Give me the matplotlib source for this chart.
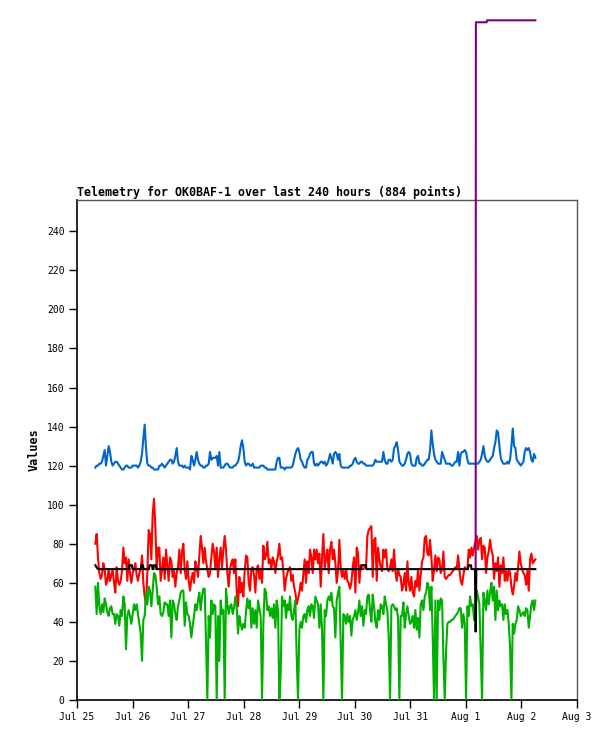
import numpy as np
import matplotlib.pyplot as plt
import matplotlib.dates as mdates

# samples on a regular grid, first one at Jul 25 07:55, about 34.5 min apart
start = np.datetime64("2023-07-25T07:55")
step = np.timedelta64(2074, "s")

blue = [119,120,120,121,121,122,125,128,120,125, 130,127,122,120,121,122,122,121,120,119,
        118,118,119,120,120,119,119,119,120,120, 120,120,119,120,122,126,134,141,129,121,
        120,120,119,119,118,118,118,118,120,120, 121,120,119,120,121,122,123,123,121,122,
        125,129,122,120,120,120,119,120,119,119, 119,118,125,123,120,123,127,123,121,120,
        120,119,119,120,120,121,127,123,124,124, 124,125,120,127,119,119,119,120,121,121,
        120,119,119,119,120,120,121,122,125,130, 133,129,122,120,121,121,120,120,121,119,
        119,119,119,119,120,120,120,119,119,118, 118,118,118,118,118,118,122,124,124,119,
        119,119,118,119,119,119,119,119,120,123, 126,128,129,127,123,122,120,119,119,123,
        124,126,127,127,121,
        120,121,120,121,122,122,121,122,120,121, 123,126,124,121,126,127,126,123,126,120,
        119,119,119,119,119,119,120,120,121,123, 124,122,121,121,122,122,121,121,120,120,
        120,120,120,120,121,123,122,122,122,122, 122,127,123,121,121,123,123,122,123,129,
        130,132,128,122,121,120,120,121,123,126, 127,126,121,120,120,120,124,125,121,121,
        120,120,121,122,123,123,128,138,131,126, 123,122,121,121,121,127,125,123,121,121,
        121,121,120,120,121,122,122,127,120,126, 127,127,128,127,123,121,121,121,121,121,
        121,121,121,122,123,126,130,125,123,122, 122,123,124,125,129,132,138,137,130,124,
        122,121,121,121,122,121,123,130,139,130, 129,123,122,121,120,121,122,127,129,128,
        129,127,123,122,126,124]

red = [80,85,73,65,62,64,70,67,59,61, 67,61,64,67,60,55,68,61,59,61,
       66,78,70,73,61,72,65,60,65,67, 70,64,61,65,67,74,60,53,49,65,
       87,85,72,95,103,89,67,78,78,61, 67,73,62,77,69,61,73,71,63,66,
       58,65,68,77,65,76,80,67,62,71, 61,56,62,65,60,71,68,63,74,84,
       78,70,
       78,71,67,63,65,73,80,76,67,78, 63,72,78,68,77,84,77,65,58,67,
       70,72,65,72,56,48,63,55,60,53, 66,74,73,60,56,67,68,64,55,67,
       69,62,67,60,79,72,74,81,70,72, 67,73,71,65,71,74,80,72,73,66,
       56,62,65,67,68,61,64,58,55,49, 52,55,60,56,65,72,60,71,65,77,
       73,65,77,72,
       77,70,75,58,73,85,68,72,77,65, 77,81,72,77,70,60,66,82,68,63,
       66,62,67,61,60,57,60,68,73,55, 78,75,60,69,67,67,68,68,84,87,
       88,89,63,82,83,61,78,72,68,66, 77,73,77,67,66,68,72,66,77,66,
       61,67,64,63,56,59,65,56,71,60, 56,63,55,53,61,58,67,56,64,71,
       73,83,84,75,
       74,82,73,61,67,74,66,73,72,65, 67,76,63,62,63,64,64,65,66,67,
       68,67,74,67,61,59,64,68,67,67, 77,73,78,74,78,81,84,77,82,83,
       72,79,78,65,73,76,82,77,74,62, 70,66,73,58,69,65,73,61,66,61,
       67,65,58,54,58,65,61,68,76,70, 67,65,64,59,66,56,72,75,70,71,
       72]

green = [58,44,60,48,44,49,45,52,49,45, 43,47,48,44,44,39,44,43,38,46,
         43,53,49,26,43,46,43,39,44,49, 46,49,44,39,34,20,41,43,55,49,
         58,56,48,56,65,64,58,49,53,44, 43,45,50,49,49,43,51,32,51,49,
         44,41,48,51,55,56,56,38,50,44, 43,39,32,38,43,49,46,51,55,46,
         53,57,
         57,30,0,43,32,51,44,49,48,0, 43,20,51,44,46,0,57,49,44,48,
         49,44,47,53,48,34,43,39,36,39, 37,45,52,47,51,37,47,39,46,37,
         51,47,43,0,39,57,55,46,48,43, 47,42,49,37,51,46,0,14,53,48,
         51,42,49,46,53,43,41,46,51,22, 0,36,40,37,43,44,40,46,48,43,
         49,48,42,53,
         51,49,37,49,36,0,46,43,51,53, 51,55,48,47,32,51,55,58,30,0,
         44,43,39,44,40,43,33,41,43,46, 41,45,51,43,48,38,46,44,53,54,
         46,40,54,48,40,37,46,41,49,48, 44,53,49,46,32,0,48,49,48,46,
         47,42,0,43,43,50,37,44,48,43, 39,40,43,37,46,36,42,32,49,51,
         46,53,55,60,
         58,46,58,32,0,51,0,51,46,52, 51,22,0,25,39,40,40,41,41,42,
         43,44,45,47,47,37,44,39,0,48, 43,53,48,49,41,42,56,53,49,25,
         0,55,51,46,56,49,55,60,51,58, 41,56,46,51,48,49,41,49,44,46,
         39,27,0,39,34,39,41,48,46,43, 44,45,43,47,46,37,43,49,51,46,
         51]

# black and purple change rarely: hours after start, value
black_h = [0, 0.5, 1.15, 14.55, 14.76, 15.84, 16.06, 19.73, 19.95, 20.6, 20.8,
           23.2, 23.4, 24.5, 24.7, 25.1, 25.3, 26.2, 26.4, 114.8, 115.0, 116.9, 117.1,
           161.0, 161.2, 162.3, 162.5, 164.0, 164.3, 164.6, 190.1]
black_v = [69, 68, 67, 67, 69, 69, 67, 67, 69, 69, 67,
           67, 69, 69, 67, 67, 69, 69, 67, 67, 69, 69, 67,
           67, 69, 69, 67, 67, 35, 67, 67]
purple_h = [164.3, 164.4, 169.1, 169.2, 190.1]
purple_v = [67, 347, 347, 348, 348]

ytick_vals = list(range(0, 241, 20))
xtick_days = np.arange(np.datetime64("2023-07-25"), np.datetime64("2023-08-04"))

t = start + np.arange(len(red)) * step
tb = start + (np.array(black_h) * 3600).astype("timedelta64[s]")
tp = start + (np.array(purple_h) * 3600).astype("timedelta64[s]")

fig = plt.figure(figsize=(6.15, 7.41), dpi=100)
ax = fig.add_axes([77 / 615, 41 / 741, 500 / 615, 500 / 741])

ax.plot(t, blue, color="#0066cc", lw=1.5, zorder=2)
ax.plot(t, red, color="#ff0000", lw=1.5, zorder=3)
ax.plot(t, green, color="#00b000", lw=1.5, zorder=4)
ax.plot(tp, purple_v, color="#800080", lw=1.5, zorder=5, clip_on=False)
ax.plot(tb, black_v, color="black", lw=1.5, zorder=6)

ax.set_ylim(0, 256)
ax.set_xlim(xtick_days[0], xtick_days[-1])
ax.set_yticks(ytick_vals)
ax.set_xticks(xtick_days)
ax.xaxis.set_major_formatter(mdates.DateFormatter("%b %-d"))

mono = "DejaVu Sans Mono"
ax.tick_params(direction="out", length=6, width=1, labelsize=7, pad=3)
for lab in ax.get_xticklabels() + ax.get_yticklabels():
    lab.set_fontfamily(mono)

for side in ["top", "right"]:
    ax.spines[side].set_color("#555555")
    ax.spines[side].set_linewidth(1)
for side in ["left", "bottom"]:
    ax.spines[side].set_color("black")
    ax.spines[side].set_linewidth(1.2)

ax.set_title("Telemetry for OK0BAF-1 over last 240 hours (884 points)",
             loc="left", fontfamily=mono, fontweight="bold", fontsize=8.4, pad=3)
ax.set_ylabel("Values", fontfamily=mono, fontweight="bold", fontsize=8.5)
ax.yaxis.set_label_coords(-0.072, 0.5)

fig.savefig("out.png", dpi=100)
